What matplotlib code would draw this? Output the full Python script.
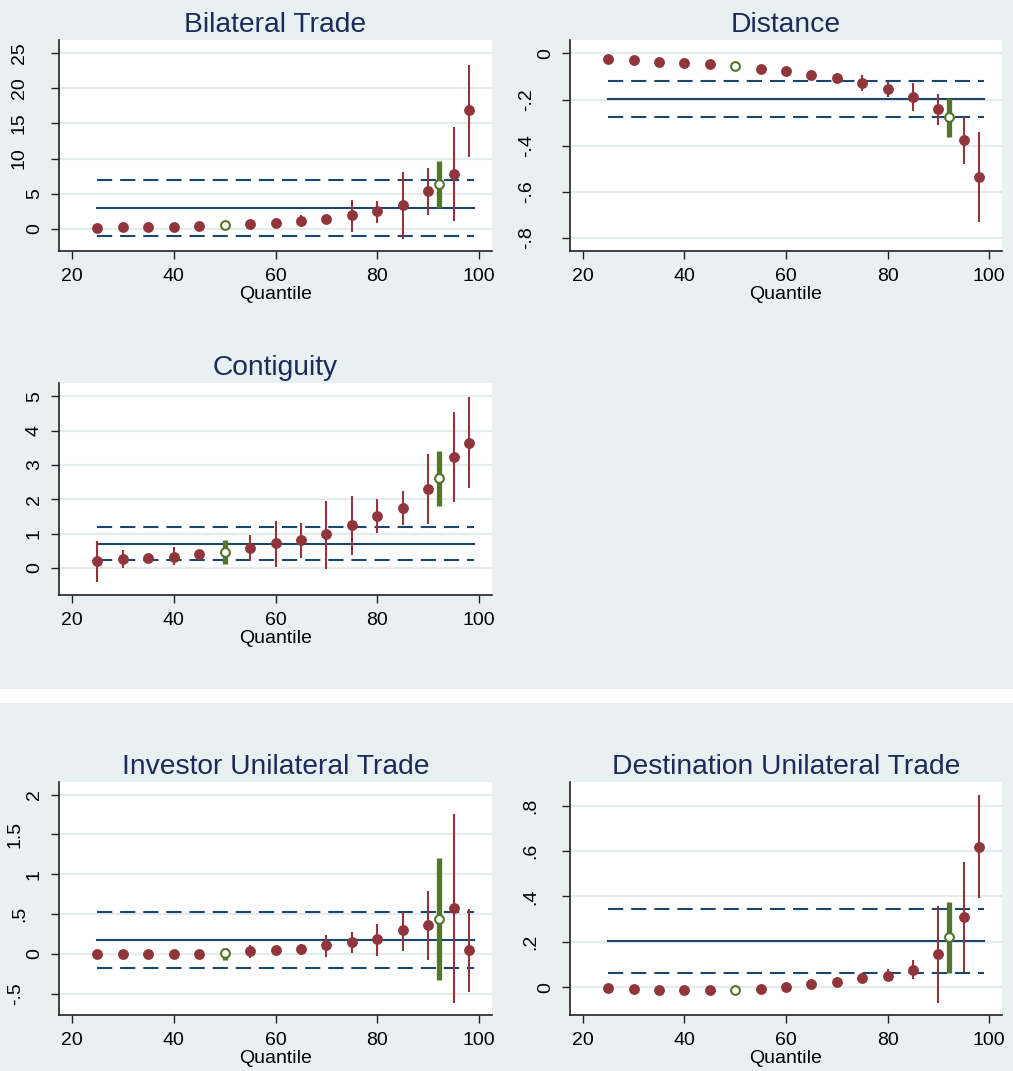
import matplotlib
matplotlib.use("Agg")
import matplotlib.pyplot as plt
from matplotlib.patches import Rectangle

plt.rcParams['font.family'] = ['Liberation Sans', 'DejaVu Sans']

W, H = 1013, 1071

# quantiles estimated (50 and 92 are shown separately in green)
quantiles = [25, 30, 35, 40, 45, 55, 60, 65, 70, 75, 80, 85, 90, 95, 98]
green_q = [50, 92]

# ----------------------------
# Bilateral Trade
# ----------------------------
bil_coef = [0.14, 0.24, 0.24, 0.24, 0.43, 0.62, 0.81, 1.14, 1.38, 1.90, 2.47, 3.42, 5.32, 7.79, 16.9]
bil_lo = [0.0, 0.1, 0.1, 0.1, 0.2, 0.2, 0.3, 0.5, 0.8, -0.43, 0.76, -1.43, 1.9, 1.09, 10.26]
bil_hi = [0.3, 0.4, 0.4, 0.4, 0.7, 1.1, 1.4, 1.9, 2.0, 4.09, 4.0, 8.08, 8.65, 14.5, 23.3]
bil_green = [0.52, 6.32]
bil_green_lo = [0.3, 2.9]
bil_green_hi = [0.75, 9.6]
bil_ols = [3.0, -1.0, 6.94]

# ----------------------------
# Distance
# ----------------------------
dist_coef = [-0.023, -0.029, -0.036, -0.040, -0.048, -0.066, -0.077, -0.092, -0.108, -0.130, -0.155, -0.188, -0.243, -0.375, -0.536]
dist_lo = [-0.03, -0.035, -0.042, -0.047, -0.055, -0.074, -0.087, -0.104, -0.122, -0.162, -0.188, -0.251, -0.310, -0.479, -0.729]
dist_hi = [-0.016, -0.023, -0.030, -0.033, -0.041, -0.058, -0.067, -0.080, -0.094, -0.095, -0.123, -0.128, -0.178, -0.277, -0.342]
dist_green = [-0.056, -0.276]
dist_green_lo = [-0.064, -0.361]
dist_green_hi = [-0.048, -0.192]
dist_ols = [-0.199, -0.277, -0.121]

# ----------------------------
# Contiguity
# ----------------------------
cont_coef = [0.19, 0.27, 0.30, 0.33, 0.41, 0.57, 0.72, 0.80, 0.98, 1.25, 1.52, 1.74, 2.30, 3.22, 3.64]
cont_lo = [-0.40, 0.01, 0.25, 0.08, 0.33, 0.19, 0.04, 0.28, -0.02, 0.38, 1.01, 1.24, 1.28, 1.91, 2.32]
cont_hi = [0.78, 0.51, 0.35, 0.60, 0.48, 0.95, 1.37, 1.30, 1.96, 2.10, 2.00, 2.25, 3.33, 4.54, 4.97]
cont_green = [0.47, 2.62]
cont_green_lo = [0.11, 1.79]
cont_green_hi = [0.82, 3.41]
cont_ols = [0.71, 0.23, 1.19]

# ----------------------------
# Investor Unilateral Trade
# ----------------------------
inv_coef = [-0.008, -0.008, -0.008, -0.008, -0.008, 0.033, 0.05, 0.059, 0.11, 0.146, 0.18, 0.293, 0.364, 0.569, 0.05]
inv_lo = [-0.02, -0.02, -0.02, -0.02, -0.02, -0.05, 0.02, -0.017, -0.038, 0.013, -0.03, 0.038, -0.08, -0.62, -0.477]
inv_hi = [0.005, 0.005, 0.005, 0.005, 0.005, 0.11, 0.08, 0.12, 0.234, 0.276, 0.38, 0.523, 0.79, 1.76, 0.56]
inv_green = [0.004, 0.44]
inv_green_lo = [-0.08, -0.33]
inv_green_hi = [0.067, 1.197]
inv_ols = [0.172, -0.184, 0.523]

# ----------------------------
# Destination Unilateral Trade
# ----------------------------
dest_coef = [-0.003, -0.009, -0.012, -0.015, -0.015, -0.009, -0.001, 0.012, 0.021, 0.038, 0.051, 0.076, 0.145, 0.308, 0.618]
dest_lo = [-0.008, -0.014, -0.017, -0.02, -0.02, -0.014, -0.008, 0.004, 0.01, 0.023, 0.028, 0.034, -0.072, 0.065, 0.393]
dest_hi = [0.002, -0.004, -0.007, -0.01, -0.01, -0.004, 0.006, 0.02, 0.032, 0.053, 0.078, 0.119, 0.357, 0.55, 0.846]
dest_green = [-0.013, 0.219]
dest_green_lo = [-0.02, 0.06]
dest_green_hi = [-0.006, 0.376]
dest_ols = [0.201, 0.062, 0.346]

BG = "#E9F0F2"
GRID = "#E4ECEE"
NAVY = "#1A476F"
MAROON = "#90353B"
GREEN = "#55752F"
TITLE = "#1C2B5A"


def panel(fig, box, title, coef, lo, hi, g, glo, ghi, ols, ylim, yticks, ylabels):
    x0, y0, x1, y1 = box
    ax = fig.add_axes([x0 / W, 1 - y1 / H, (x1 - x0) / W, (y1 - y0) / H])
    ax.set_facecolor("white")

    # OLS estimate and its confidence band
    ax.plot([25, 99], [ols[0], ols[0]], color=NAVY, lw=1.5, zorder=2)
    for v in ols[1:]:
        ax.plot([25, 99], [v, v], color=NAVY, lw=1.5, dashes=(7.3, 3.8), zorder=2)

    # quantile regression estimates
    ax.vlines(quantiles, lo, hi, color=MAROON, lw=1.5, zorder=3)
    ax.plot(quantiles, coef, 'o', color=MAROON, ms=7.8, mew=0, zorder=4)

    ax.vlines(green_q, glo, ghi, color=GREEN, lw=3.8, zorder=5)
    ax.plot(green_q, g, 'o', mfc="white", mec=GREEN, ms=6.3, mew=1.5, zorder=6)

    ax.set_xlim(17.5, 102.5)
    ax.set_ylim(*ylim)
    ax.set_xticks([20, 40, 60, 80, 100])
    ax.set_yticks(yticks)
    ax.set_yticklabels(ylabels, rotation=90, va="center")
    ax.grid(axis='y', color=GRID, lw=1.6)
    ax.set_axisbelow(True)

    for s in ["top", "right"]:
        ax.spines[s].set_visible(False)
    for s in ["left", "bottom"]:
        ax.spines[s].set_color("#222222")
        ax.spines[s].set_linewidth(1.2)
    ax.tick_params(length=6, width=1.0, color="#222222", labelsize=14, pad=6)

    # longer rotated labels sit further out from the axis
    for tick, lab in zip(ax.yaxis.get_major_ticks(), ylabels):
        n = len(lab)
        dist = min(16 + 15 * (n - 1), 35)
        tick.set_pad((dist - 8.3) * 0.72)

    ax.set_xlabel("Quantile", fontsize=14, labelpad=1)
    ax.set_title(title, fontsize=20.3, color=TITLE, pad=6)
    return ax


fig = plt.figure(figsize=(W / 100, H / 100), dpi=100)
fig.patch.set_facecolor(BG)

# white strip between the two groups of graphs
fig.add_artist(Rectangle((0, 1 - 703 / H), 1, 14 / H, transform=fig.transFigure,
                         facecolor="white", edgecolor="none"))

panel(fig, (59, 40, 492, 251), "Bilateral Trade",
      bil_coef, bil_lo, bil_hi, bil_green, bil_green_lo, bil_green_hi, bil_ols,
      (-3.18, 26.9), [0, 5, 10, 15, 20, 25], ["0", "5", "10", "15", "20", "25"])

panel(fig, (570, 40, 1002, 251), "Distance",
      dist_coef, dist_lo, dist_hi, dist_green, dist_green_lo, dist_green_hi, dist_ols,
      (-0.856, 0.058), [0, -0.2, -0.4, -0.6, -0.8], ["0", "-.2", "-.4", "-.6", "-.8"])

panel(fig, (59, 383, 492, 595), "Contiguity",
      cont_coef, cont_lo, cont_hi, cont_green, cont_green_lo, cont_green_hi, cont_ols,
      (-0.79, 5.39), [0, 1, 2, 3, 4, 5], ["0", "1", "2", "3", "4", "5"])

panel(fig, (59, 782, 492, 1015), "Investor Unilateral Trade",
      inv_coef, inv_lo, inv_hi, inv_green, inv_green_lo, inv_green_hi, inv_ols,
      (-0.769, 2.158), [-0.5, 0, 0.5, 1, 1.5, 2], ["-.5", "0", ".5", "1", "1.5", "2"])

panel(fig, (570, 782, 1002, 1015), "Destination Unilateral Trade",
      dest_coef, dest_lo, dest_hi, dest_green, dest_green_lo, dest_green_hi, dest_ols,
      (-0.123, 0.904), [0, 0.2, 0.4, 0.6, 0.8], ["0", ".2", ".4", ".6", ".8"])

fig.savefig("out.png", dpi=100, facecolor=fig.get_facecolor())
